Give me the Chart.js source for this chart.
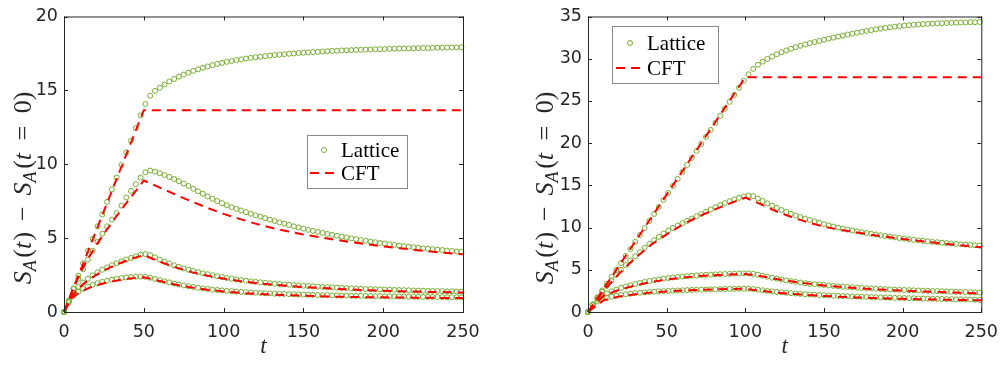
<!DOCTYPE html>
<html>
<head>
<meta charset="utf-8">
<script src="https://cdn.jsdelivr.net/npm/chart.js@4.4.1/dist/chart.umd.min.js"></script>
<style>
  html, body { margin: 0; padding: 0; background: #fff; }
  #wrap { position: relative; width: 1008px; height: 367px; background: #fff; }
  canvas { position: absolute; top: 0; }
  #leftChart { left: 0; }
  #rightChart { left: 504px; }
</style>
</head>
<body>
<div id="wrap">
  <canvas id="leftChart" width="504" height="367"></canvas>
  <canvas id="rightChart" width="504" height="367"></canvas>
</div>
<script>
// sample times of the lattice points (same for both panels)
const latticeT = [0, 3, 6, 9, 12, 15, 18, 21, 24, 27,
  30, 33, 36, 39, 42, 45, 48, 51, 54, 57,
  60, 63, 66, 69, 72, 75, 78, 81, 84, 87,
  90, 93, 96, 99, 102, 105, 108, 111, 114, 117,
  120, 123, 126, 129, 132, 135, 138, 141, 144, 147,
  150, 153, 156, 159, 162, 165, 168, 171, 174, 177,
  180, 183, 186, 189, 192, 195, 198, 201, 204, 207,
  210, 213, 216, 219, 222, 225, 228, 231, 234, 237,
  240, 243, 246, 249];

// left panel, lattice
const leftLattice1 = [0, 0.75, 1.6, 2.45, 3.3, 4.15, 4.95, 5.8, 6.6, 7.45,
  8.3, 9.1, 9.95, 10.8, 11.6, 12.45, 13.3, 14.08, 14.63, 14.96,
  15.18, 15.4, 15.6, 15.77, 15.93, 16.07, 16.2, 16.32, 16.43, 16.53,
  16.62, 16.71, 16.79, 16.86, 16.93, 16.99, 17.05, 17.1, 17.15, 17.2,
  17.24, 17.28, 17.32, 17.36, 17.39, 17.42, 17.45, 17.48, 17.5, 17.53,
  17.55, 17.57, 17.59, 17.61, 17.63, 17.65, 17.67, 17.68, 17.7, 17.71,
  17.72, 17.74, 17.75, 17.76, 17.77, 17.78, 17.79, 17.8, 17.81, 17.82,
  17.83, 17.84, 17.84, 17.85, 17.86, 17.87, 17.87, 17.88, 17.89, 17.89,
  17.9, 17.9, 17.91, 17.92];
const leftLattice2 = [0, 0.75, 1.55, 2.25, 2.9, 3.55, 4.15, 4.75, 5.3, 5.8,
  6.25, 6.7, 7.2, 7.75, 8.2, 8.65, 9.1, 9.45, 9.57, 9.5,
  9.39, 9.27, 9.14, 9.0, 8.85, 8.69, 8.53, 8.34, 8.17, 8.0,
  7.82, 7.66, 7.51, 7.37, 7.23, 7.1, 6.98, 6.87, 6.76, 6.65,
  6.55, 6.45, 6.35, 6.25, 6.16, 6.06, 5.98, 5.89, 5.8, 5.72,
  5.64, 5.56, 5.49, 5.42, 5.35, 5.28, 5.22, 5.16, 5.1, 5.04,
  4.98, 4.93, 4.87, 4.82, 4.77, 4.72, 4.67, 4.63, 4.58, 4.54,
  4.5, 4.46, 4.42, 4.38, 4.35, 4.31, 4.28, 4.25, 4.22, 4.19,
  4.16, 4.13, 4.1, 4.08];
const leftLattice3 = [0, 0.72, 1.3, 1.7, 2.0, 2.25, 2.48, 2.68, 2.86, 3.02,
  3.17, 3.3, 3.43, 3.55, 3.66, 3.77, 3.88, 3.92, 3.85, 3.7,
  3.55, 3.41, 3.28, 3.16, 3.05, 2.95, 2.86, 2.78, 2.7, 2.62,
  2.56, 2.49, 2.42, 2.36, 2.3, 2.25, 2.2, 2.16, 2.12, 2.08,
  2.04, 2.01, 1.98, 1.95, 1.92, 1.89, 1.87, 1.84, 1.82, 1.8,
  1.78, 1.76, 1.74, 1.72, 1.7, 1.68, 1.67, 1.65, 1.63, 1.62,
  1.6, 1.59, 1.57, 1.56, 1.55, 1.54, 1.53, 1.52, 1.51, 1.5,
  1.49, 1.48, 1.47, 1.46, 1.45, 1.44, 1.43, 1.43, 1.42, 1.41,
  1.4, 1.4, 1.39, 1.38];
const leftLattice4 = [0, 0.65, 1.1, 1.38, 1.57, 1.72, 1.84, 1.95, 2.04, 2.12,
  2.19, 2.25, 2.3, 2.34, 2.37, 2.39, 2.4, 2.38, 2.32, 2.24,
  2.16, 2.08, 2.0, 1.93, 1.86, 1.8, 1.74, 1.69, 1.64, 1.6,
  1.56, 1.52, 1.49, 1.46, 1.43, 1.41, 1.38, 1.36, 1.34, 1.32,
  1.3, 1.29, 1.27, 1.26, 1.24, 1.23, 1.22, 1.21, 1.2, 1.19,
  1.18, 1.17, 1.16, 1.15, 1.14, 1.14, 1.13, 1.12, 1.11, 1.11,
  1.1, 1.09, 1.09, 1.08, 1.08, 1.07, 1.07, 1.06, 1.06, 1.05,
  1.05, 1.04, 1.04, 1.03, 1.03, 1.02, 1.02, 1.02, 1.01, 1.01,
  1.0, 1.0, 1.0, 0.99];

// left panel, CFT
const leftCftT = [0, 5, 10, 15, 20, 25, 30, 35, 40, 45, 50,
  60, 70, 80, 90, 100, 110, 120, 130, 140, 150,
  160, 170, 180, 190, 200, 210, 220, 230, 240, 250];
const leftCft1 = [0, 1.37, 2.73, 4.1, 5.46, 6.83, 8.2, 9.56, 10.93, 12.29, 13.66,
  13.66, 13.66, 13.66, 13.66, 13.66, 13.66, 13.66, 13.66, 13.66, 13.66,
  13.66, 13.66, 13.66, 13.66, 13.66, 13.66, 13.66, 13.66, 13.66, 13.66];
const leftCft2 = [0, 1.4, 2.6, 3.6, 4.5, 5.3, 6.05, 6.8, 7.5, 8.2, 8.9,
  8.42, 7.94, 7.48, 7.04, 6.64, 6.3, 5.98, 5.7, 5.46, 5.25,
  5.06, 4.89, 4.73, 4.58, 4.44, 4.32, 4.2, 4.09, 3.99, 3.9];
const leftCft3 = [0, 1.1, 1.7, 2.15, 2.5, 2.8, 3.07, 3.3, 3.52, 3.7, 3.85,
  3.4, 3.02, 2.7, 2.45, 2.26, 2.1, 1.97, 1.86, 1.77, 1.69,
  1.63, 1.57, 1.52, 1.48, 1.44, 1.41, 1.38, 1.36, 1.34, 1.32];
const leftCft4 = [0, 0.95, 1.35, 1.6, 1.8, 1.95, 2.07, 2.17, 2.25, 2.31, 2.35,
  2.1, 1.85, 1.66, 1.51, 1.39, 1.3, 1.23, 1.18, 1.14, 1.1,
  1.07, 1.04, 1.02, 1.0, 0.99, 0.98, 0.97, 0.96, 0.95, 0.94];

// right panel, lattice
const rightLattice1 = [0, 0.9, 1.75, 2.55, 3.35, 4.17, 4.98, 5.8, 6.63, 7.46,
  8.3, 9.12, 9.95, 10.78, 11.61, 12.44, 13.27, 14.1, 14.93, 15.76,
  16.59, 17.42, 18.25, 19.08, 19.91, 20.74, 21.57, 22.4, 23.23, 24.06,
  24.89, 25.72, 26.55, 27.38, 28.15, 28.8, 29.28, 29.65, 29.97, 30.25,
  30.52, 30.76, 30.98, 31.18, 31.36, 31.53, 31.69, 31.84, 31.98, 32.11,
  32.24, 32.37, 32.5, 32.62, 32.74, 32.86, 32.97, 33.08, 33.19, 33.29,
  33.39, 33.48, 33.57, 33.65, 33.73, 33.8, 33.86, 33.92, 33.97, 34.02,
  34.06, 34.1, 34.13, 34.16, 34.19, 34.21, 34.23, 34.25, 34.27, 34.29,
  34.3, 34.32, 34.33, 34.35];
const rightLattice2 = [0, 0.85, 1.65, 2.4, 3.1, 3.75, 4.4, 5.0, 5.55, 6.1,
  6.6, 7.1, 7.6, 8.05, 8.5, 8.9, 9.3, 9.65, 9.95, 10.24,
  10.52, 10.8, 11.07, 11.34, 11.61, 11.88, 12.15, 12.41, 12.66, 12.9,
  13.12, 13.33, 13.52, 13.68, 13.8, 13.72, 13.45, 13.15, 12.87, 12.6,
  12.33, 12.08, 11.85, 11.63, 11.43, 11.25, 11.07, 10.9, 10.73, 10.57,
  10.41, 10.26, 10.12, 9.99, 9.87, 9.76, 9.65, 9.55, 9.45, 9.35,
  9.26, 9.17, 9.08, 9.0, 8.92, 8.84, 8.76, 8.69, 8.62, 8.55,
  8.49, 8.43, 8.37, 8.31, 8.26, 8.21, 8.16, 8.11, 8.06, 8.02,
  7.98, 7.94, 7.9, 7.87];
const rightLattice3 = [0, 0.85, 1.5, 1.9, 2.2, 2.45, 2.66, 2.85, 3.02, 3.17,
  3.31, 3.44, 3.56, 3.67, 3.77, 3.86, 3.95, 4.02, 4.09, 4.15,
  4.2, 4.25, 4.29, 4.33, 4.37, 4.4, 4.43, 4.46, 4.48, 4.5,
  4.52, 4.54, 4.56, 4.58, 4.58, 4.52, 4.42, 4.3, 4.18, 4.06,
  3.95, 3.85, 3.75, 3.66, 3.57, 3.49, 3.41, 3.34, 3.29, 3.24,
  3.2, 3.14, 3.09, 3.04, 3.0, 2.96, 2.92, 2.88, 2.85, 2.82,
  2.79, 2.76, 2.73, 2.7, 2.68, 2.65, 2.63, 2.61, 2.59, 2.57,
  2.55, 2.53, 2.51, 2.49, 2.47, 2.46, 2.44, 2.42, 2.4, 2.38,
  2.36, 2.34, 2.32, 2.3];
const rightLattice4 = [0, 0.8, 1.25, 1.5, 1.68, 1.82, 1.93, 2.02, 2.1, 2.17,
  2.23, 2.28, 2.33, 2.37, 2.41, 2.44, 2.47, 2.5, 2.53, 2.55,
  2.57, 2.59, 2.61, 2.63, 2.65, 2.66, 2.68, 2.69, 2.7, 2.72,
  2.73, 2.74, 2.75, 2.76, 2.76, 2.71, 2.64, 2.57, 2.5, 2.44,
  2.38, 2.33, 2.28, 2.23, 2.19, 2.15, 2.11, 2.08, 2.05, 2.02,
  1.99, 1.96, 1.94, 1.91, 1.89, 1.87, 1.85, 1.83, 1.81, 1.79,
  1.77, 1.75, 1.73, 1.72, 1.7, 1.68, 1.67, 1.65, 1.64, 1.62,
  1.61, 1.59, 1.58, 1.57, 1.55, 1.54, 1.53, 1.52, 1.5, 1.49,
  1.48, 1.47, 1.46, 1.45];

// right panel, CFT
const rightCftT = [0, 10, 20, 30, 40, 50, 60, 70, 80, 90, 100,
  110, 120, 130, 140, 150, 160, 170, 180, 190, 200,
  210, 220, 230, 240, 250];
const rightCft1 = [0, 2.78, 5.56, 8.34, 11.12, 13.9, 16.68, 19.46, 22.24, 25.02, 27.8,
  27.8, 27.8, 27.8, 27.8, 27.8, 27.8, 27.8, 27.8, 27.8, 27.8,
  27.8, 27.8, 27.8, 27.8, 27.8];
const rightCft2 = [0, 2.5, 4.6, 6.4, 7.95, 9.2, 10.35, 11.3, 12.1, 12.85, 13.55,
  12.75, 11.9, 11.2, 10.6, 10.1, 9.75, 9.45, 9.15, 8.9, 8.65,
  8.43, 8.22, 8.02, 7.84, 7.67];
const rightCft3 = [0, 1.95, 2.65, 3.15, 3.55, 3.85, 4.08, 4.25, 4.36, 4.45, 4.5,
  4.25, 3.9, 3.6, 3.36, 3.15, 2.98, 2.84, 2.72, 2.62, 2.53,
  2.45, 2.38, 2.31, 2.25, 2.2];
const rightCft4 = [0, 1.4, 1.85, 2.1, 2.3, 2.44, 2.54, 2.62, 2.68, 2.72, 2.75,
  2.5, 2.3, 2.14, 2.01, 1.9, 1.81, 1.73, 1.67, 1.61, 1.56,
  1.52, 1.48, 1.45, 1.42, 1.39];

const GREEN = 'rgb(119,172,48)';
const RED = '#ff0000';
const AXIS = '#262626';
const TICK_FONT = { family: '"DejaVu Sans", sans-serif', size: 17.5 };
const SERIF = '"Liberation Serif", "Times New Roman", serif';

function xy(ts, vs) {
    return ts.map((t, i) => ({ x: t, y: vs[i] }));
}

function latticeSet(vs) {
    return {
        data: xy(latticeT, vs),
        showLine: false,
        pointStyle: 'circle',
        pointRadius: 2.5,
        pointBorderWidth: 1,
        pointBorderColor: GREEN,
        pointBackgroundColor: 'rgba(0,0,0,0)',
        order: 1,
        clip: false
    };
}

function cftSet(ts, vs) {
    return {
        data: xy(ts, vs),
        showLine: true,
        borderColor: RED,
        borderWidth: 2,
        borderDash: [9, 6],
        pointRadius: 0,
        fill: false,
        tension: 0,
        order: 0,
        clip: false
    };
}

// y label  S_A(t) - S_A(t = 0)  with real subscripts
function drawYLabel(ctx, cx, cy) {
    const f = 26;
    const parts = [
        // text, italic, scale, shift (em), gap after (em)
        ['S', true, 1, 0, 0],
        ['A', true, 0.7, 0.22, 0.1],
        ['(', false, 1, 0, 0],
        ['t', true, 1, 0, 0.05],
        [')', false, 1, 0, 0.42],
        ['\u2212', false, 1, 0, 0.42],
        ['S', true, 1, 0, 0],
        ['A', true, 0.7, 0.22, 0.1],
        ['(', false, 1, 0, 0],
        ['t', true, 1, 0, 0.48],
        ['=', false, 1, 0, 0.48],
        ['0', false, 1, 0, 0],
        [')', false, 1, 0, 0]
    ];
    const fontOf = p => (p[1] ? 'italic ' : '') + Math.round(f * p[2]) + 'px ' + SERIF;
    let total = 0;
    parts.forEach(p => {
        ctx.font = fontOf(p);
        total += ctx.measureText(p[0]).width + p[4] * f;
    });
    ctx.save();
    ctx.translate(cx, cy);
    ctx.rotate(-Math.PI / 2);
    ctx.fillStyle = AXIS;
    ctx.textBaseline = 'alphabetic';
    ctx.textAlign = 'left';
    let x = -total / 2;
    parts.forEach(p => {
        ctx.font = fontOf(p);
        ctx.fillText(p[0], x, f * 0.33 + p[3] * f);
        x += ctx.measureText(p[0]).width + p[4] * f;
    });
    ctx.restore();
}

function drawLegend(ctx, lg) {
    ctx.save();
    ctx.fillStyle = '#fff';
    ctx.fillRect(lg.x, lg.y, lg.w, lg.h);
    ctx.strokeStyle = '#8a8a8a';
    ctx.lineWidth = 1;
    ctx.strokeRect(lg.x + 0.5, lg.y + 0.5, lg.w, lg.h);

    // Lattice entry
    ctx.strokeStyle = GREEN;
    ctx.beginPath();
    ctx.arc(lg.x + lg.mx, lg.y + lg.row1, 2.5, 0, Math.PI * 2);
    ctx.stroke();
    // CFT entry
    ctx.strokeStyle = RED;
    ctx.lineWidth = 2;
    ctx.setLineDash([9, 6]);
    ctx.beginPath();
    ctx.moveTo(lg.x + lg.lx0, lg.y + lg.row2);
    ctx.lineTo(lg.x + lg.lx1, lg.y + lg.row2);
    ctx.stroke();
    ctx.setLineDash([]);

    ctx.fillStyle = '#000';
    ctx.font = '21px ' + SERIF;
    ctx.textBaseline = 'middle';
    ctx.textAlign = 'left';
    ctx.fillText('Lattice', lg.x + lg.tx, lg.y + lg.row1 + 1);
    ctx.fillText('CFT', lg.x + lg.tx, lg.y + lg.row2 + 1);
    ctx.restore();
}

const decorPlugin = {
    id: 'decor',
    afterDraw(chart, args, opts) {
        const ctx = chart.ctx;
        const a = chart.chartArea;
        const xs = chart.scales.x;
        const ys = chart.scales.y;
        ctx.save();
        ctx.strokeStyle = AXIS;
        ctx.lineWidth = 1;
        // inward ticks on all four sides
        ctx.beginPath();
        xs.ticks.forEach(tk => {
            const px = Math.round(xs.getPixelForValue(tk.value)) + 0.5;
            ctx.moveTo(px, a.bottom);
            ctx.lineTo(px, a.bottom - 4);
            ctx.moveTo(px, a.top);
            ctx.lineTo(px, a.top + 4);
        });
        ys.ticks.forEach(tk => {
            const py = Math.round(ys.getPixelForValue(tk.value)) + 0.5;
            ctx.moveTo(a.left, py);
            ctx.lineTo(a.left + 4, py);
            ctx.moveTo(a.right, py);
            ctx.lineTo(a.right - 4, py);
        });
        ctx.stroke();
        ctx.strokeRect(a.left + 0.5, a.top + 0.5, a.right - a.left, a.bottom - a.top);

        drawLegend(ctx, opts.legend);

        // x label
        ctx.fillStyle = AXIS;
        ctx.font = 'italic 23px ' + SERIF;
        ctx.textAlign = 'center';
        ctx.textBaseline = 'middle';
        ctx.fillText('t', (a.left + a.right) / 2, 347);

        drawYLabel(ctx, opts.yLabelX, 188);
        ctx.restore();
    }
};

function makeChart(id, yMax, datasets, padRight, yWidth, decor) {
    const ctx = document.getElementById(id).getContext('2d');
    return new Chart(ctx, {
        type: 'scatter',
        data: { datasets: datasets },
        options: {
            responsive: false,
            animation: false,
            devicePixelRatio: 1,
            layout: { padding: { left: 0, right: padRight, top: 11, bottom: 0 } },
            plugins: {
                legend: { display: false },
                tooltip: { enabled: false },
                decor: decor
            },
            scales: {
                x: {
                    type: 'linear',
                    min: 0,
                    max: 250,
                    ticks: { stepSize: 50, padding: 10, color: AXIS, font: TICK_FONT, maxRotation: 0 },
                    grid: { display: false, drawTicks: false },
                    border: { display: false },
                    afterFit: s => { s.height = 55; }
                },
                y: {
                    type: 'linear',
                    min: 0,
                    max: yMax,
                    ticks: { stepSize: 5, padding: 6, color: AXIS, font: TICK_FONT },
                    grid: { display: false, drawTicks: false },
                    border: { display: false },
                    afterFit: s => { s.width = yWidth; }
                }
            }
        },
        plugins: [decorPlugin]
    });
}

document.addEventListener('DOMContentLoaded', function () {
    makeChart('leftChart', 20, [
        cftSet(leftCftT, leftCft1),
        cftSet(leftCftT, leftCft2),
        cftSet(leftCftT, leftCft3),
        cftSet(leftCftT, leftCft4),
        latticeSet(leftLattice1),
        latticeSet(leftLattice2),
        latticeSet(leftLattice3),
        latticeSet(leftLattice4)
    ], 41, 64, {
        legend: { x: 307, y: 135, w: 100, h: 53, mx: 17, row1: 15, row2: 38, lx0: 3, lx1: 28, tx: 34 },
        yLabelX: 22
    });

    makeChart('rightChart', 35, [
        cftSet(rightCftT, rightCft1),
        cftSet(rightCftT, rightCft2),
        cftSet(rightCftT, rightCft3),
        cftSet(rightCftT, rightCft4),
        latticeSet(rightLattice1),
        latticeSet(rightLattice2),
        latticeSet(rightLattice3),
        latticeSet(rightLattice4)
    ], 21, 84, {
        legend: { x: 108, y: 26, w: 106, h: 57, mx: 18, row1: 17, row2: 42, lx0: 4, lx1: 29, tx: 35 },
        yLabelX: 40
    });
});
</script>
</body>
</html>
